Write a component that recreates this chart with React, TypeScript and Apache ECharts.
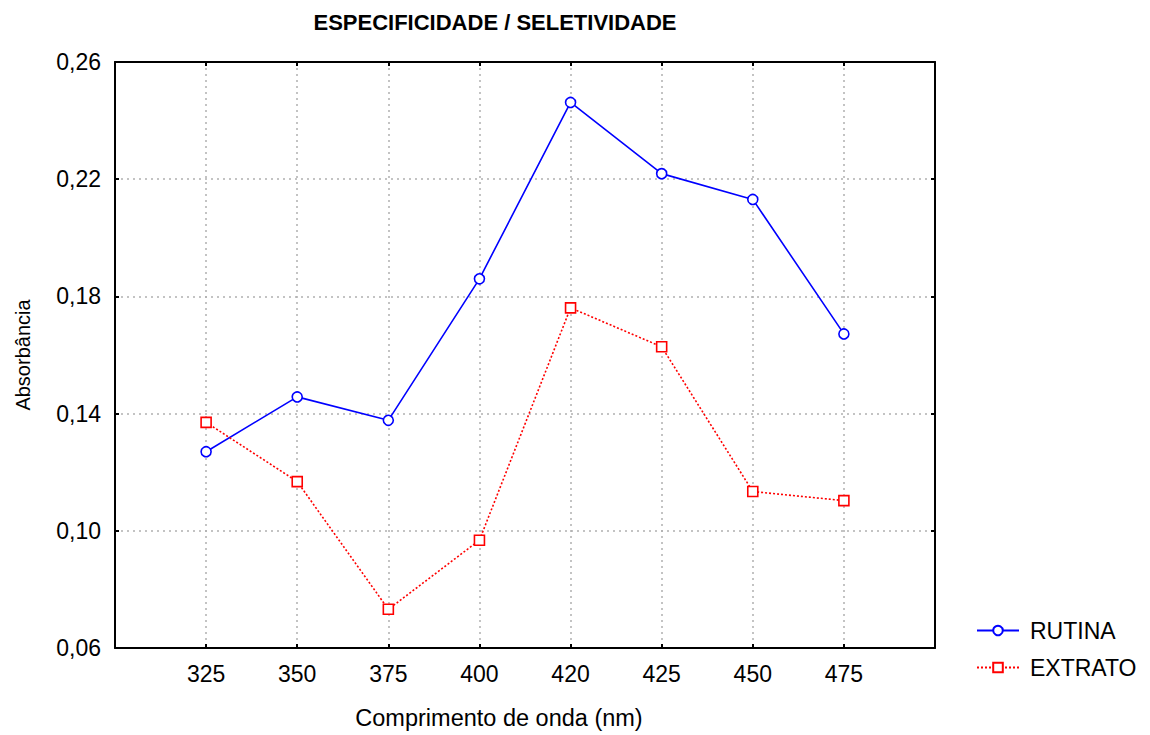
import React, { useEffect, useRef } from "react";
import * as echarts from "echarts";

const categories = ["", "325", "350", "375", "400", "420", "425", "450", "475", ""];
const rutina = [null, 0.127, 0.1457, 0.1377, 0.186, 0.2462, 0.2219, 0.2131, 0.1672, null];
const extrato = [null, 0.137, 0.1168, 0.0732, 0.0968, 0.1761, 0.1628, 0.1134, 0.1103, null];
const yTicks = { min: 0.06, max: 0.26, interval: 0.04 };

const FONT = "'Liberation Sans', Arial, sans-serif";

export default function App() {
  const ref = useRef<HTMLDivElement>(null);
  useEffect(() => {
    if (!ref.current) return;
    const chart = echarts.init(ref.current, undefined, { renderer: "svg" });
    const axisLine = { show: true, lineStyle: { color: "#000", width: 2 } };
    const tick = { show: true, inside: true, length: 4, lineStyle: { color: "#000", width: 2 } };
    const split = { show: true, lineStyle: { color: "#b0b0b0", type: [2, 4] as any, width: 1.5 } };
    chart.setOption({
      animation: false,
      backgroundColor: "#fff",
      textStyle: { fontFamily: FONT },
      title: {
        text: "ESPECIFICIDADE / SELETIVIDADE",
        left: 490,
        top: 6,
        textAlign: "center",
        textStyle: { fontFamily: FONT, fontSize: 22, fontWeight: "bold", color: "#000" },
      },
      grid: { left: 115, right: 215, top: 62, bottom: 85 },
      legend: {
        orient: "vertical",
        left: 971,
        top: 614,
        itemWidth: 42,
        itemHeight: 12,
        itemGap: 14,
        textStyle: { fontFamily: FONT, fontSize: 23, color: "#000", padding: [0, 0, 0, 6] },
        data: ["RUTINA", "EXTRATO"],
      },
      xAxis: [
        {
          type: "category",
          data: categories,
          boundaryGap: false,
          axisLine,
          axisTick: { ...tick, alignWithLabel: true },
          splitLine: split,
          axisLabel: { color: "#000", fontSize: 23, fontFamily: FONT, margin: 14, interval: 0 },
          name: "Comprimento de onda (nm)",
          nameLocation: "middle",
          nameGap: 58,
          nameTextStyle: { color: "#000", fontSize: 23.5, fontFamily: FONT, padding: [0, 52, 0, 0] },
        },
        {
          type: "category",
          data: categories,
          boundaryGap: false,
          position: "top",
          axisLine,
          axisTick: tick,
          splitLine: { show: false },
          axisLabel: { show: false },
        },
      ],
      yAxis: [
        {
          type: "value",
          ...yTicks,
          axisLine,
          axisTick: tick,
          splitLine: split,
          axisLabel: {
            color: "#000",
            fontSize: 23,
            fontFamily: FONT,
            margin: 14,
            formatter: (v: number) => v.toFixed(2).replace(".", ","),
          },
          name: "Absorbância",
          nameLocation: "middle",
          nameGap: 82,
          nameTextStyle: { color: "#000", fontSize: 20, fontFamily: FONT },
        },
        {
          type: "value",
          ...yTicks,
          position: "right",
          axisLine,
          axisTick: tick,
          splitLine: { show: false },
          axisLabel: { show: false },
        },
      ],
      series: [
        {
          name: "RUTINA",
          type: "line",
          data: rutina,
          symbol: "circle",
          symbolSize: 10,
          showAllSymbol: true,
          itemStyle: { color: "#fff", borderColor: "#0000ff", borderWidth: 1.6 },
          lineStyle: { color: "#0000ff", width: 1.6 },
          color: "#0000ff",
        },
        {
          name: "EXTRATO",
          type: "line",
          data: extrato,
          symbol: "rect",
          symbolSize: 10,
          showAllSymbol: true,
          itemStyle: { color: "#fff", borderColor: "#ff0000", borderWidth: 1.6 },
          lineStyle: { color: "#ff0000", width: 1.6, type: [2, 2] as any },
          color: "#ff0000",
        },
      ],
    });
    return () => chart.dispose();
  }, []);
  return (
    <div
      ref={ref}
      style={{ position: "absolute", left: 0, top: 0, width: 1150, height: 735 }}
    />
  );
}
